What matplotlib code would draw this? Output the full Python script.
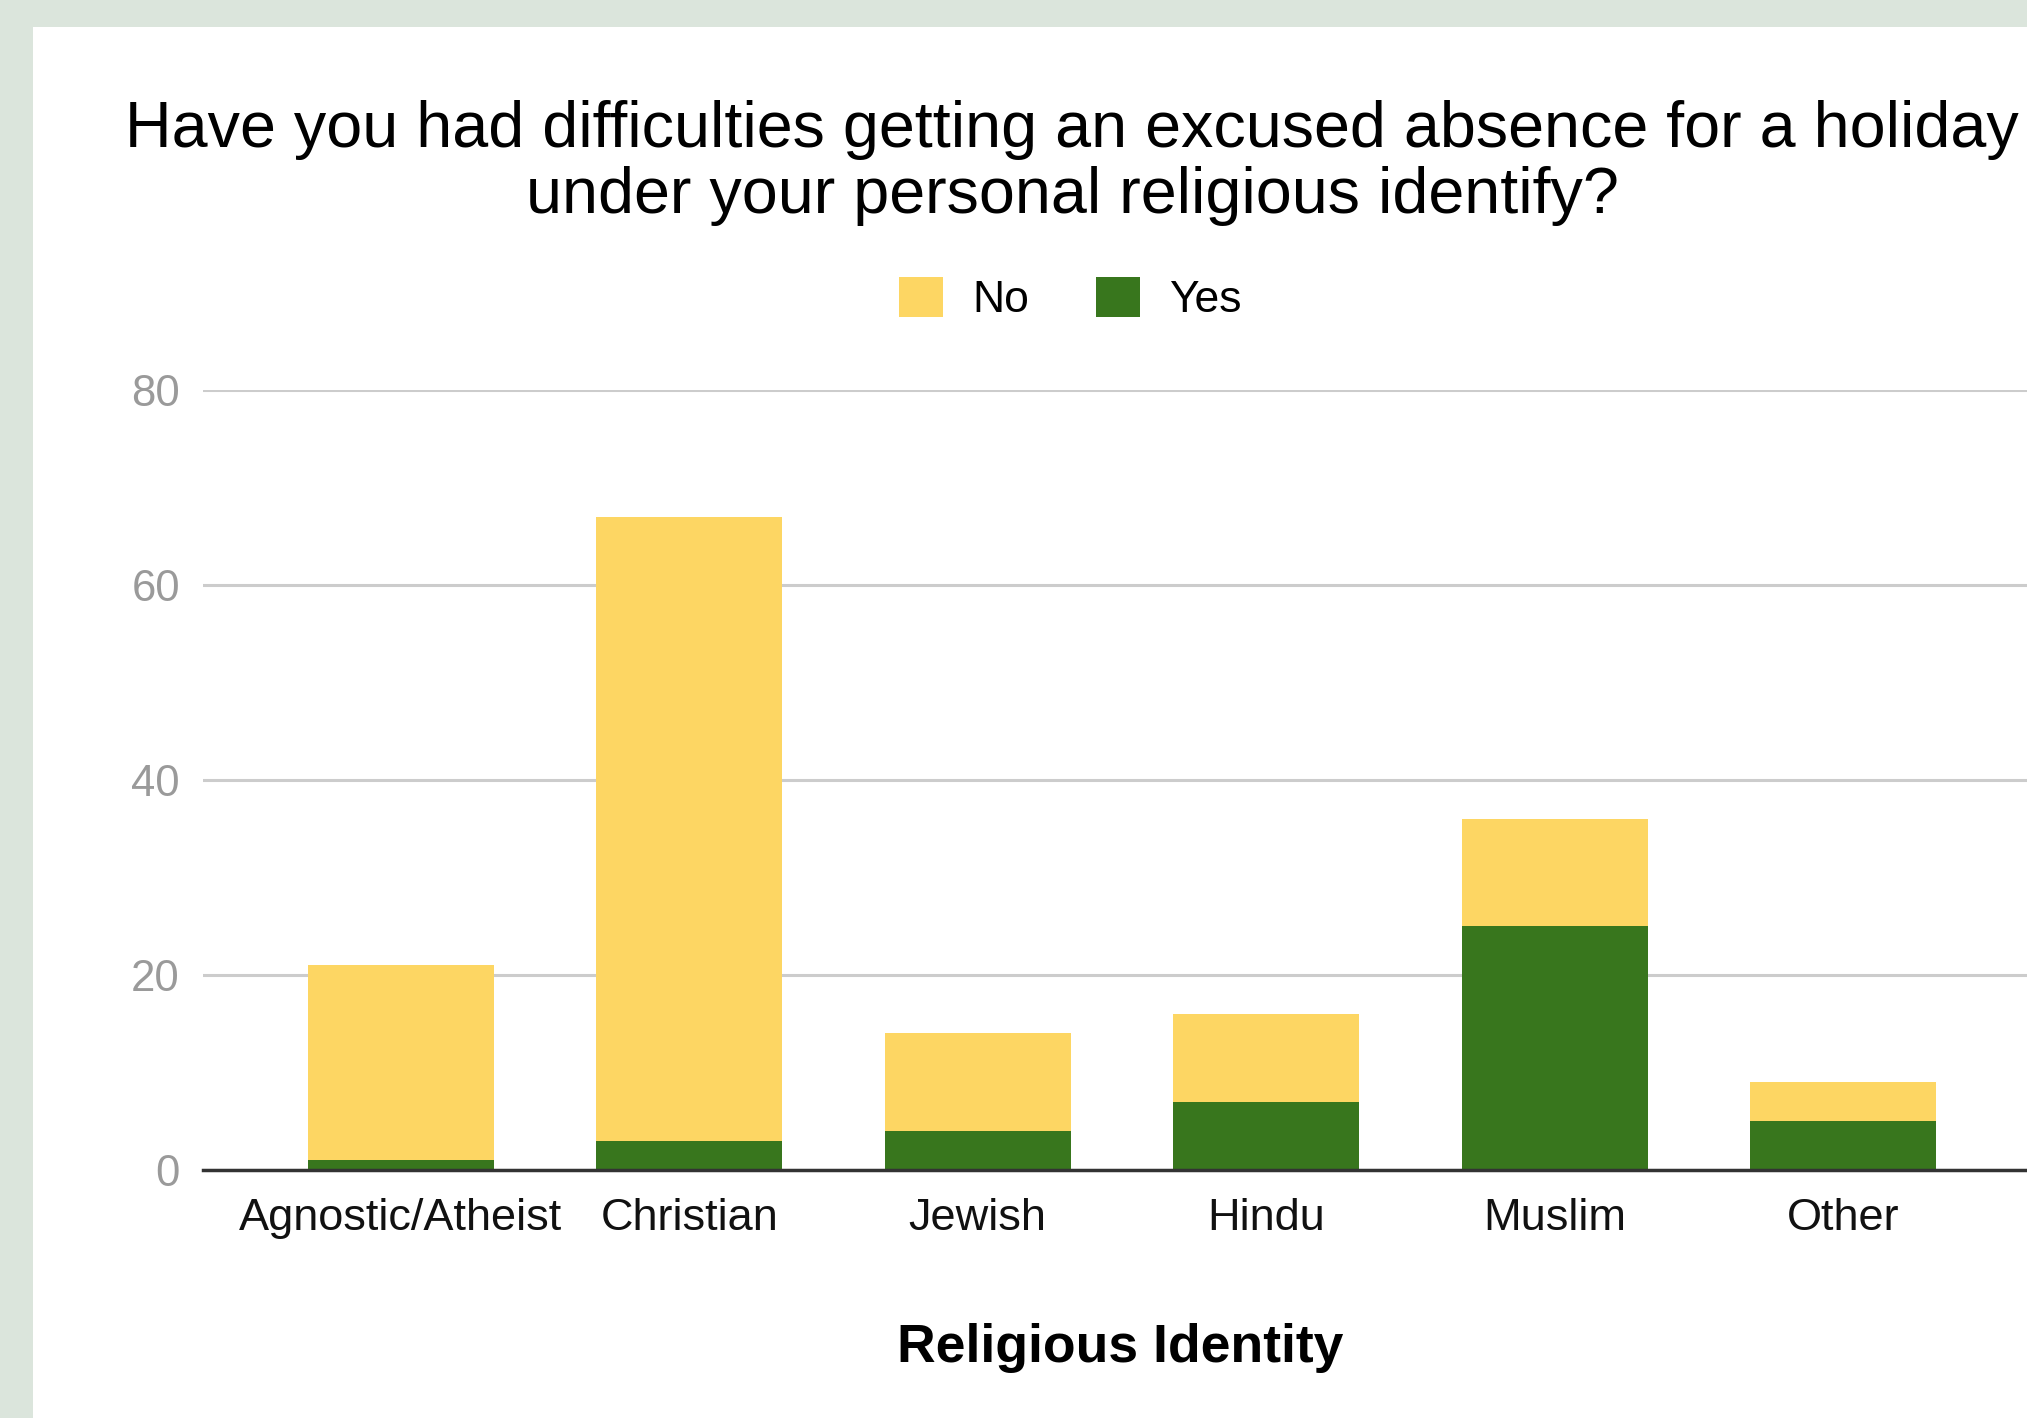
import numpy as np
import matplotlib
matplotlib.use("Agg")
import matplotlib.pyplot as plt
from matplotlib.patches import Rectangle

plt.rcParams["font.family"] = ["Liberation Sans", "DejaVu Sans"]

# data
categories = ["Agnostic/Atheist", "Christian", "Jewish", "Hindu", "Muslim", "Other"]
yes_counts = [1, 3, 4, 7, 25, 5]
no_counts = [20, 64, 10, 9, 11, 4]
y_ticks = [0, 20, 40, 60, 80]

yellow = "#fdd663"
green = "#38761d"

fig = plt.figure(figsize=(20.27, 14.18), dpi=100)
fig.patch.set_facecolor("#dbe5dc")
# white card on the greenish page
fig.patches.append(Rectangle((33 / 2027, 0), 1, 1 - 27 / 1418,
                             transform=fig.transFigure, facecolor="white",
                             edgecolor="none", zorder=-1))

ax = fig.add_axes([0.1001, 0.1749, 0.8999, 0.5501])
ax.set_facecolor("none")
ax.set_zorder(2)

x = np.arange(len(categories))
w = 0.646
ax.bar(x, yes_counts, w, color=green, label="Yes", zorder=3)
ax.bar(x, no_counts, w, bottom=yes_counts, color=yellow, label="No", zorder=3)

ax.set_xlim(-0.686, 5.637)
ax.set_ylim(0, 80)
ax.set_yticks(y_ticks)
ax.set_xticks(x)
ax.set_xticklabels(categories, fontsize=32.5, color="#111111")
ax.tick_params(axis="x", length=0, pad=20)
ax.tick_params(axis="y", length=0, pad=16.5, labelsize=31.5, labelcolor="#9a9a9a")

ax.grid(axis="y", color="#cccccc", linewidth=2.2, zorder=0)
for s in ["top", "right", "left"]:
    ax.spines[s].set_visible(False)
ax.spines["bottom"].set_color("#333333")
ax.spines["bottom"].set_linewidth(2.5)
ax.spines["bottom"].set_zorder(4)

ax.set_xlabel("Religious Identity", fontsize=38.5, fontweight="bold", labelpad=61)
ax.xaxis.label.set_x(0.503)

fig.text(0.529, 1 - 100 / 1418,
         "Have you had difficulties getting an excused absence for a holiday\nunder your personal religious identify?",
         ha="center", va="top", fontsize=46.5, linespacing=1.12, color="#000000")

handles, labels = ax.get_legend_handles_labels()
fig.legend(handles[::-1], labels[::-1], loc="center", bbox_to_anchor=(0.528, 0.789),
           ncol=2, frameon=False, fontsize=32, handlelength=1.0, handleheight=1.0,
           handletextpad=0.65, columnspacing=1.5)

fig.savefig("out.png", dpi=100, facecolor=fig.get_facecolor())
